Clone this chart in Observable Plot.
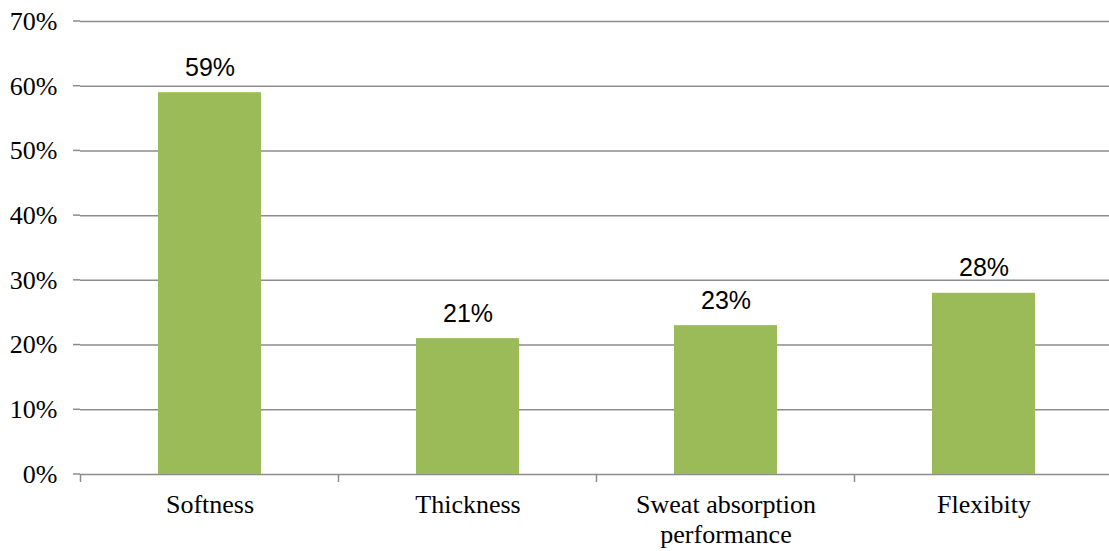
<!DOCTYPE html>
<html>
<head>
<meta charset="utf-8">
<script src="https://cdn.jsdelivr.net/npm/d3@7"></script>
<script src="https://cdn.jsdelivr.net/npm/@observablehq/plot@0.6"></script>
<style>
  html, body { margin: 0; padding: 0; background: #fff; overflow: hidden; }
  #chart svg { display: block; }
</style>
</head>
<body>
<div id="chart"></div>
<script>
// Share of respondents naming each fabric property as most important
const categories = ["Softness", "Thickness", "Sweat absorption\nperformance", "Flexibity"];
const shares = [59, 21, 23, 28];
const yTicks = [0, 10, 20, 30, 40, 50, 60, 70];

const data = categories.map((c, i) => ({category: c, share: shares[i]}));
// one row per label line, so each line is its own text element
const labelLines = categories.flatMap(c => c.split("\n").map((t, j) => ({category: c, text: t, line: j})));

const gridColor = "#8c8c8c";
const barColor = "#9bbb59";
const serif = "Liberation Serif";
const sans = "Liberation Sans";

// Category-boundary tick marks below the baseline, drawn from the band scale
function boundaryTicks(index, scales) {
  const x = scales.x, y = scales.y;
  const bw = typeof x.bandwidth === "function" ? x.bandwidth() : x.bandwidth;
  const centers = categories.map(c => x(c) + bw / 2);
  const step = centers[1] - centers[0];
  const edges = [centers[0] - step / 2, ...centers.map(c => c + step / 2)];
  const y0 = y(0);
  const g = d3.create("svg:g")
    .attr("stroke", gridColor)
    .attr("stroke-width", 1.5);
  g.selectAll("line").data(edges).join("line")
    .attr("x1", d => d).attr("x2", d => d)
    .attr("y1", y0).attr("y2", y0 + 8);
  return g.node();
}

// Short outward ticks on the value axis
function valueTicks(index, scales, values, dims) {
  const g = d3.create("svg:g")
    .attr("stroke", gridColor)
    .attr("stroke-width", 1.5);
  g.selectAll("line").data(yTicks).join("line")
    .attr("x1", dims.marginLeft - 7).attr("x2", dims.marginLeft)
    .attr("y1", d => scales.y(d)).attr("y2", d => scales.y(d));
  return g.node();
}

const chart = Plot.plot({
  width: 1109,
  height: 551,
  marginLeft: 80,
  marginRight: 0,
  marginTop: 21,
  marginBottom: 77,
  style: {fontFamily: serif, fontSize: "26px", color: "#000"},
  x: {domain: categories, range: [80, 1114], paddingInner: 0.6, paddingOuter: 0.3, axis: null},
  y: {domain: [0, 70], axis: null, label: null},
  marks: [
    Plot.ruleY(yTicks, {stroke: gridColor, strokeWidth: 1.5}),
    Plot.ruleX([0], {x: () => 0, frameAnchor: "left", stroke: gridColor, strokeWidth: 1.5}),
    Plot.barY(data, {x: "category", y: "share", fill: barColor}),
    boundaryTicks,
    valueTicks,
    Plot.text(yTicks, {
      y: d => d,
      text: d => d + "%",
      frameAnchor: "left",
      textAnchor: "end",
      lineAnchor: "middle",
      dx: -23,
      fontFamily: serif,
      fontSize: 26,
      fill: "#000"
    }),
    Plot.text(data, {
      x: "category",
      y: "share",
      text: d => d.share + "%",
      lineAnchor: "bottom",
      dy: -17,
      fontFamily: sans,
      fontSize: 25,
      fill: "#000"
    }),
    Plot.text(labelLines.filter(d => d.line === 0), {
      x: "category",
      text: "text",
      frameAnchor: "bottom",
      lineAnchor: "bottom",
      dy: 38,
      fontFamily: serif,
      fontSize: 26,
      fill: "#000"
    }),
    Plot.text(labelLines.filter(d => d.line === 1), {
      x: "category",
      text: "text",
      frameAnchor: "bottom",
      lineAnchor: "bottom",
      dy: 68,
      fontFamily: serif,
      fontSize: 26,
      fill: "#000"
    })
  ]
});

document.getElementById("chart").append(chart);
</script>
</body>
</html>
